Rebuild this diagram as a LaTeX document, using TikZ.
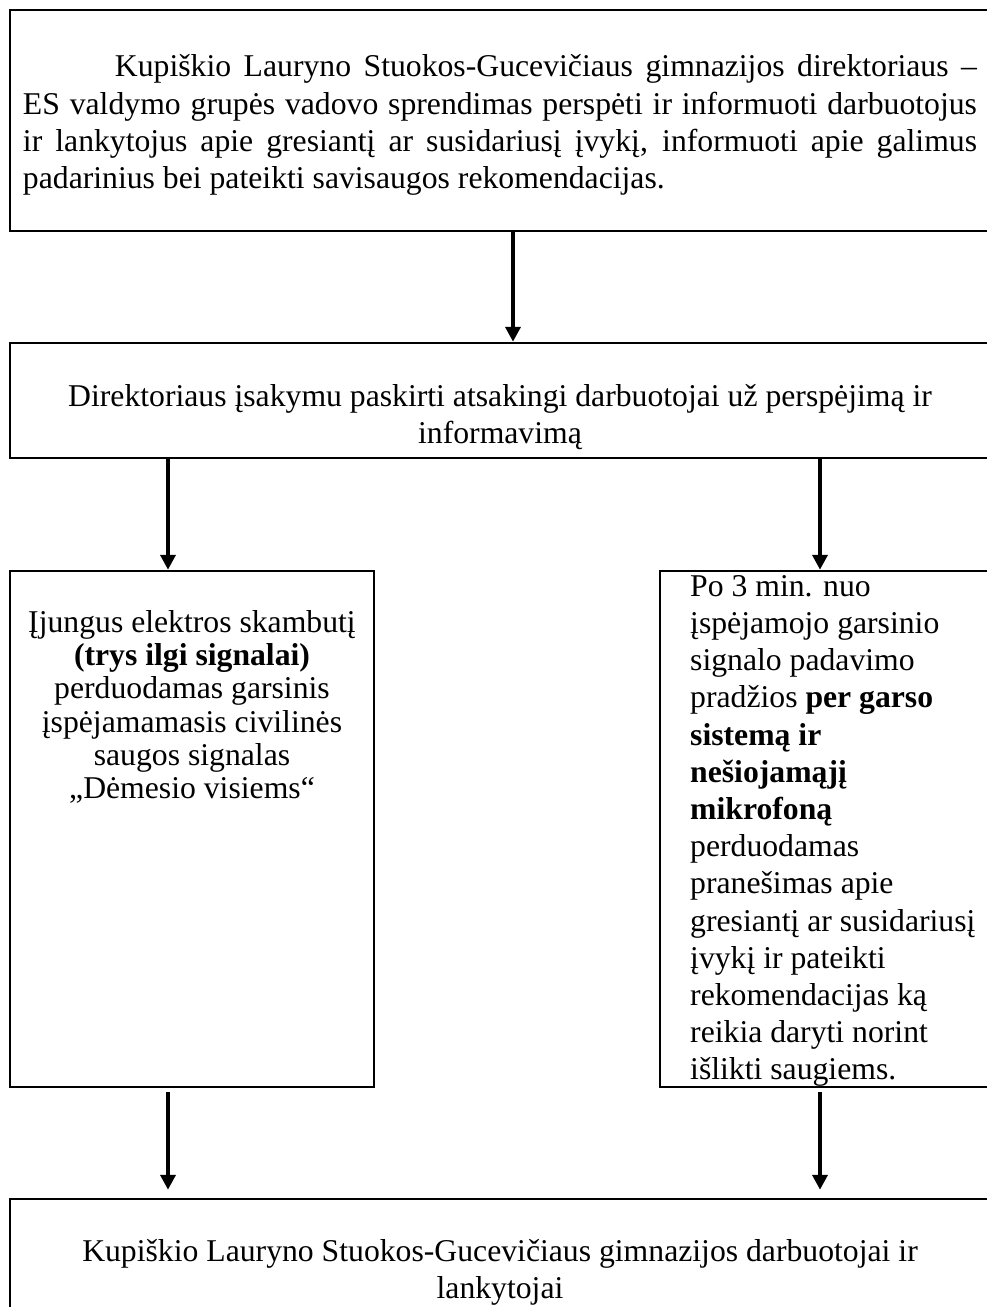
\documentclass[tikz,border=0pt]{standalone}
\usepackage{fontspec}
\setmainfont{Liberation Serif}
\usepackage{tikz}
\usetikzlibrary{arrows.meta}
\usetikzlibrary{calc}
\newcommand{\boxfont}{\fontsize{31.7pt}{37.2pt}\selectfont}
\newcommand{\tightfont}{\fontsize{31.7pt}{33.3pt}\selectfont}

\begin{document}
\begin{tikzpicture}[
  x=1pt, y=-1pt,
  dep/.style ={
    -{Triangle[width=15pt,length=15pt]},line width=4pt
  },
  blk/.style 2 args={
    rectangle,
    draw=black,
    line width=2.5pt,
    minimum width=#1,
    minimum height=#2,
    inner sep=0pt},
  txt/.style={
    inner sep=0pt,
    font=\boxfont},
]

  \useasboundingbox (0,0) rectangle (987,1307);
  \clip (0,0) rectangle (987,1307);

  % Director decision
  \node[blk={980pt}{221pt}] (dir) at (500,120.5) {};
  \node[txt,text width=954pt,align=justify] (dir_txt) at (500,125)
    {\hyphenpenalty=10000\exhyphenpenalty=10000
     \hspace*{92pt}Kupiškio Lauryno Stuokos-Gucevičiaus gimnazijos direktoriaus
     –\linebreak ES valdymo grupės vadovo sprendimas perspėti ir informuoti
     darbuotojus\linebreak ir lankytojus apie gresiantį ar susidariusį įvykį,
     informuoti apie galimus\linebreak padarinius bei pateikti savisaugos
     rekomendacijas.};

  % Order of the director
  \node[blk={980pt}{115pt}] (ord) at (500,400.5) {};
  \node[txt,align=center] (ord_txt) at (500,417)
    {Direktoriaus įsakymu paskirti atsakingi darbuotojai už perspėjimą ir\\
     informavimą};

  % Bell signal
  \node[blk={364pt}{516pt}] (bell) at (192,829) {};
  \node[txt,font=\tightfont,align=center] (bell_txt) at (192,707)
    {Įjungus elektros skambutį\\
     \textbf{(trys ilgi signalai)}\\
     perduodamas garsinis\\
     įspėjamamasis civilinės\\
     saugos signalas\\
     „Dėmesio visiems“};

  % Sound system and microphone
  \node[blk={330pt}{516pt}] (mic) at (825,829) {};
  \node[txt,align=left,anchor=west] (mic_txt) at (690,831)
    {Po 3 min. nuo\\
     įspėjamojo garsinio\\
     signalo padavimo\\
     pradžios \textbf{per garso}\\
     \textbf{sistemą ir}\\
     \textbf{nešiojamąjį}\\
     \textbf{mikrofoną}\\
     perduodamas\\
     pranešimas apie\\
     gresiantį ar susidariusį\\
     įvykį ir pateikti\\
     rekomendacijas ką\\
     reikia daryti norint\\
     išlikti saugiems.};

  % Staff and visitors
  \node[blk={980pt}{132pt}] (staff) at (500,1265) {};
  \node[txt,align=center] (staff_txt) at (500,1272)
    {Kupiškio Lauryno Stuokos-Gucevičiaus gimnazijos darbuotojai ir\\
     lankytojai};

  \draw[dep] ($(dir.south)+(13,0)$) -- ($(ord.north)+(13,0)$);
  \foreach \col/\dx in {bell/-24,mic/-5} {
    \draw[dep] ($(ord.south -| \col.north)+(\dx,0)$)
      -- ($(\col.north)+(\dx,0)$);
    \draw[dep,shorten <=4pt,shorten >=8pt] ($(\col.south)+(\dx,0)$)
      -- ($(staff.north -| \col.south)+(\dx,0)$);
  }

\end{tikzpicture}
\end{document}
